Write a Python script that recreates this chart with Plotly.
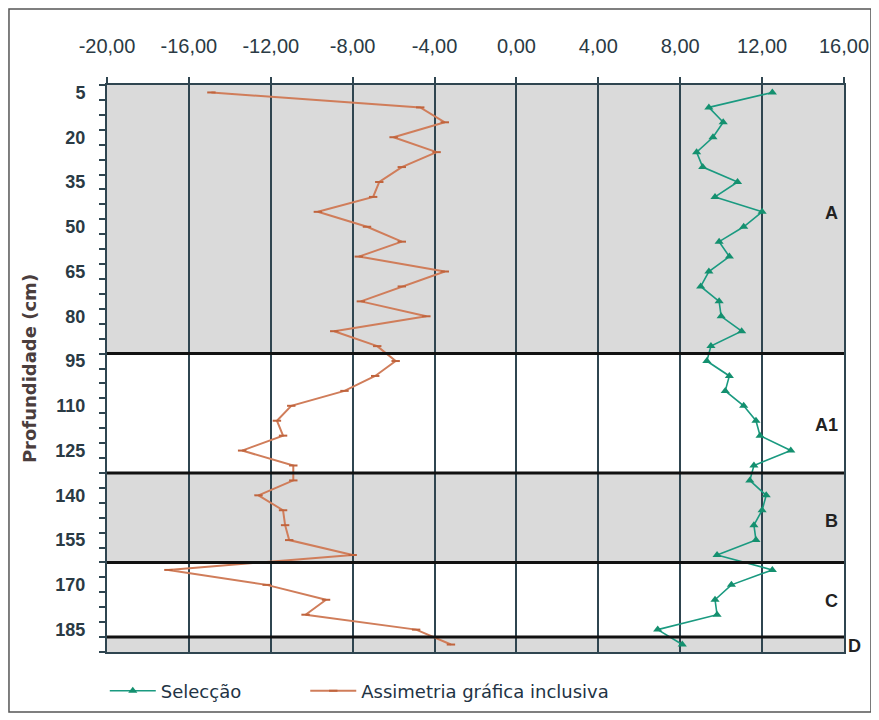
import plotly.graph_objects as go

# Depths (cm), one value per 5 cm category
depths = [5, 10, 15, 20, 25, 30, 35, 40, 45, 50, 55, 60, 65, 70, 75, 80, 85, 90,
          95, 100, 105, 110, 115, 120, 125, 130, 135, 140, 145, 150, 155, 160,
          165, 170, 175, 180, 185, 190]

selecao = [12.5, 9.4, 10.1, 9.6, 8.8, 9.1, 10.8, 9.7, 12.0, 11.1, 9.9, 10.4,
           9.4, 9.0, 9.9, 10.0, 11.0, 9.5, 9.3, 10.4, 10.2, 11.1, 11.7, 11.9,
           13.4, 11.6, 11.4, 12.2, 12.0, 11.6, 11.7, 9.8, 12.5, 10.5, 9.7,
           9.8, 6.9, 8.1]

assimetria = [-14.9, -4.7, -3.5, -6.0, -3.9, -5.6, -6.7, -7.0, -9.7, -7.3,
              -5.6, -7.7, -3.5, -5.6, -7.6, -4.4, -8.9, -6.8, -5.9, -6.9,
              -8.4, -11.0, -11.7, -11.4, -13.4, -10.9, -10.9, -12.6, -11.4,
              -11.3, -11.1, -8.0, -17.0, -12.2, -9.3, -10.3, -4.9, -3.2]

x_ticks = [-20, -16, -12, -8, -4, 0, 4, 8, 12, 16]
x_ticklabels = ["-20,00", "-16,00", "-12,00", "-8,00", "-4,00", "0,00",
                "4,00", "8,00", "12,00", "16,00"]
y_ticks = [5, 20, 35, 50, 65, 80, 95, 110, 125, 140, 155, 170, 185]

# Horizon boundaries (cm) and labels
bounds = [2.5, 92.5, 132.5, 162.5, 187.5, 192.5]
horizons = ["A", "A1", "B", "C", "D"]
horizon_shaded = [True, False, True, False, True]
horizon_label_depth = [45.5, 116.5, 148.5, 175.5, 190.5]

fig = go.Figure()

fig.add_trace(go.Scatter(
    x=selecao, y=depths, name="Selecção", mode="lines+markers",
    line=dict(color="#1a9a80", width=1.6),
    marker=dict(symbol="triangle-up", size=8, color="#14906f"),
    legend="legend",
))
fig.add_trace(go.Scatter(
    x=assimetria, y=depths, name="Assimetria gráfica inclusiva",
    mode="lines+markers",
    line=dict(color="#d07d5a", width=2),
    marker=dict(symbol="line-ew", size=6, color="#c0643d",
                line=dict(color="#c0643d", width=2)),
    legend="legend2",
))

shapes = []
for i, sh in enumerate(horizon_shaded):
    if sh:
        shapes.append(dict(type="rect", xref="x", yref="y", x0=-20, x1=16,
                           y0=bounds[i], y1=bounds[i + 1],
                           fillcolor="#dadada", line=dict(width=0),
                           layer="below"))
for b in bounds[1:-1]:
    shapes.append(dict(type="line", xref="x", yref="y", x0=-20, x1=16,
                       y0=b, y1=b, line=dict(color="#111", width=3),
                       layer="above"))
# outer frame
shapes.append(dict(type="rect", xref="paper", yref="paper",
                   x0=-0.1330, x1=1.0366, y0=-0.1058, y1=1.134,
                   line=dict(color="#555", width=1.5)))

annotations = []
for name, d in zip(horizons, horizon_label_depth):
    if name == "D":
        annotations.append(dict(x=1.003, y=d, xref="paper", yref="y",
                                text="<b>D</b>", showarrow=False, xanchor="left",
                                font=dict(family="Arial", size=18, color="#222")))
    else:
        annotations.append(dict(x=15.8, y=d, xref="x", yref="y",
                                text="<b>%s</b>" % name, showarrow=False,
                                xanchor="right",
                                font=dict(family="Arial", size=18, color="#222")))

legend_font = dict(family="DejaVu Sans", size=18, color="#223344")
fig.update_layout(
    width=871, height=712,
    margin=dict(l=99, r=35, t=77, b=68, autoexpand=False),
    paper_bgcolor="white", plot_bgcolor="white",
    shapes=shapes, annotations=annotations,
    showlegend=True,
    legend=dict(orientation="h", x=-0.003, xanchor="left", y=-0.069,
                yanchor="middle", font=legend_font, itemwidth=46),
    legend2=dict(orientation="h", x=0.269, xanchor="left", y=-0.069,
                 yanchor="middle", font=legend_font, itemwidth=46),
    font=dict(family="Arial"),
)

fig.update_xaxes(
    side="top", range=[-20, 16], tickvals=x_ticks, ticktext=x_ticklabels,
    showgrid=True, gridcolor="#2f4550", gridwidth=2,
    showline=True, linecolor="#2f4550", linewidth=2, mirror=True,
    ticks="outside", ticklen=6, tickcolor="#2f4550", tickwidth=1.5,
    ticklabelstandoff=16, automargin=False,
    tickfont=dict(family="Arial", size=20, color="#2a3a44"),
    zeroline=False,
)
fig.update_yaxes(
    range=[192.5, 2.5], tickvals=y_ticks, ticks="",
    minor=dict(ticks="outside", tick0=2.5, dtick=5, ticklen=6,
               tickcolor="#2f4550", tickwidth=1.5, showgrid=False),
    showgrid=False, zeroline=False, automargin=False,
    showline=True, linecolor="#2f4550", linewidth=2, mirror=True,
    ticklabelstandoff=16,
    tickfont=dict(family="Arial", size=18, color="#2a3a44", weight="bold"),
    title=dict(text="<b>Profundidade (cm)</b>", standoff=14,
               font=dict(family="DejaVu Sans", size=18, color="#4a3d3d")),
)

fig.write_html("out.html")
